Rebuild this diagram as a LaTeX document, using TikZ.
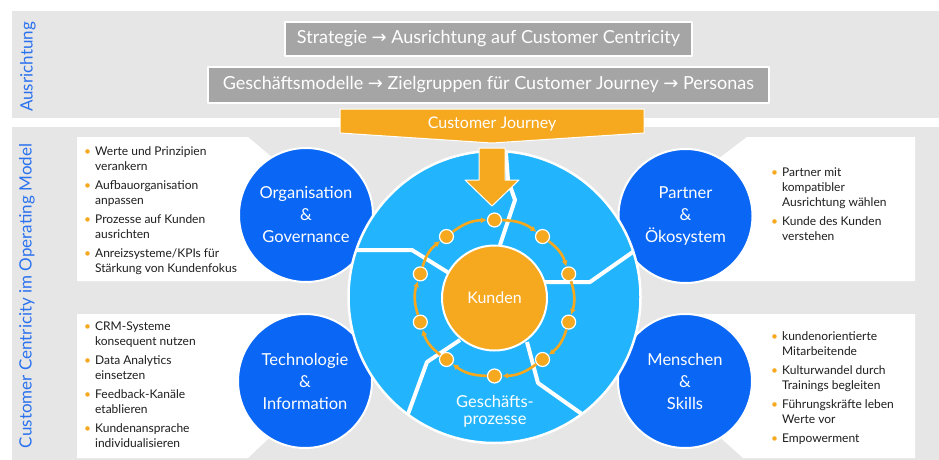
\documentclass[tikz,border=0pt]{standalone}
\usepackage{fontspec}
\setmainfont{Lato}
\newfontfamily\symfont{DejaVu Sans}
\usetikzlibrary{arrows.meta}

\definecolor{cjorange}{HTML}{F6A81F}
\definecolor{cjlight}{HTML}{22B5FD}
\definecolor{cjdark}{HTML}{0A66F4}
\definecolor{cjpanel}{HTML}{E6E6E6}
\definecolor{cjgrey}{HTML}{A5A5A5}
\definecolor{cjlabel}{HTML}{2A72EF}
\definecolor{cjtext}{HTML}{1E1E1E}

\newcommand{\bul}{\textcolor{cjorange}{\textbullet}}
\newcommand{\arr}{{\symfont\char"2192}}

\begin{document}
\begin{tikzpicture}[x=1pt,y=-1pt,line join=round,
    panel/.style={fill=cjpanel},
    greybox/.style={draw=white,line width=1.2pt,fill=cjgrey,text=white,
      font=\fontsize{18}{20}\selectfont,inner sep=0pt},
    pillar/.style={circle,draw=white,line width=2pt,fill=cjdark,text=white,
      minimum size=134pt,inner sep=0pt,align=center,
      font=\fontsize{16.5}{22}\selectfont},
    stop/.style={circle,draw=white,line width=1.2pt,fill=cjorange,
      minimum size=14pt,inner sep=0pt},
    flow/.style={cjorange,line width=2.6pt,-{Latex[length=6pt,width=6pt]}},
    bullets/.style={anchor=north west,inner sep=0pt,text=cjtext,
      font=\fontsize{12}{15}\selectfont},
    sidelabel/.style={rotate=90,text=cjlabel,font=\fontsize{17}{19}\selectfont}]
  \fill[white] (0,0) rectangle (939,460);
  \useasboundingbox (0,0) rectangle (939,460);

  % panels
  \fill[panel] (12,11) rectangle (939,118);
  \fill[panel] (12,127) rectangle (939,460);
  \node[sidelabel] (ausr) at (28,67) {Ausrichtung};
  \node[sidelabel] (model) at (27,296) {Customer Centricity im Operating Model};

  \node[greybox,minimum width=407pt,minimum height=34pt] (strategie) at (488.5,39)
    {Strategie \arr{} Ausrichtung auf Customer Centricity};
  \node[greybox,minimum width=561pt,minimum height=36pt] (modelle) at (488.5,85)
    {Geschäftsmodelle \arr{} Zielgruppen für Customer Journey \arr{} Personas};

  % callout boxes
  \fill[white] (77,137) -- (248,137) -- (306,186) -- (306,281) -- (77,281) -- cycle;
  \fill[white] (747,137) -- (915,137) -- (915,281) -- (685,281) -- (685,184) -- cycle;
  \fill[white] (77,314) -- (306,314) -- (306,403) -- (248,458) -- (77,458) -- cycle;
  \fill[white] (685,314) -- (915,314) -- (915,458) -- (743,458) -- (685,406) -- cycle;

  \node[bullets] (orgatext) at (84,145) {\begin{tabular}{@{}l@{\hspace{4pt}}l@{}}
    \bul & Werte und Prinzipien\\ & verankern\\[4pt]
    \bul & Aufbauorganisation\\ & anpassen\\[4pt]
    \bul & Prozesse auf Kunden\\ & ausrichten\\[4pt]
    \bul & Anreizsysteme/KPIs für\\ & Stärkung von Kundenfokus
  \end{tabular}};
  \node[bullets] (partnertext) at (771,166) {\begin{tabular}{@{}l@{\hspace{4pt}}l@{}}
    \bul & Partner mit\\ & kompatibler\\ & Ausrichtung wählen\\[4pt]
    \bul & Kunde des Kunden\\ & verstehen
  \end{tabular}};
  \node[bullets] (techniktext) at (84,320) {\begin{tabular}{@{}l@{\hspace{4pt}}l@{}}
    \bul & CRM-Systeme\\ & konsequent nutzen\\[4pt]
    \bul & Data Analytics\\ & einsetzen\\[4pt]
    \bul & Feedback-Kanäle\\ & etablieren\\[4pt]
    \bul & Kundenansprache\\ & individualisieren
  \end{tabular}};
  \node[bullets] (menschentext) at (771,330) {\begin{tabular}{@{}l@{\hspace{4pt}}l@{}}
    \bul & kundenorientierte\\ & Mitarbeitende\\[4pt]
    \bul & Kulturwandel durch\\ & Trainings begleiten\\[4pt]
    \bul & Führungskräfte leben\\ & Werte vor\\[4pt]
    \bul & Empowerment
  \end{tabular}};

  % pillars
  \node[pillar] (orga) at (306,215) {Organisation\\\&\\Governance};
  \node[pillar] (partner) at (685.5,216) {Partner\\\&\\Ökosystem};
  \node[pillar] (technik) at (305,381) {Technologie\\\&\\Information};
  \node[pillar] (menschen) at (685,381) {Menschen\\\&\\Skills};

  % big wheel
  \node[circle,fill=cjlight,minimum size=292pt,inner sep=0pt] (rad) at (494.5,297) {};
  \begin{scope}
    \clip (rad.center) circle (146pt);
    \draw[white,line width=4pt]
      (500,245) -- (515,200) -- (508,180) -- (505,140)
      (340,250) -- (412,250) -- (452,275)
      (540,282) -- (590,282) -- (650,240)
      (460,340) -- (427,362) -- (404,425)
      (527,342) -- (538,383) -- (596,424);
  \end{scope}
  \draw[white,line width=2.5pt] (rad.center) circle (146pt);

  \node[circle,draw=white,line width=2pt,fill=cjorange,minimum size=105pt,
    inner sep=0pt,text=white,font=\fontsize{16}{18}\selectfont] (kunden) at (494.5,298) {Kunden};

  \foreach \a [count=\i] in {-90,-52,-18,18,52,90,128,162,198,232}
    \node[stop] (s\i) at ([shift={(\a:78)}]kunden.center) {};
  \foreach \i [evaluate=\i as \j using {int(mod(\i,10)+1)}] in {1,...,10}
    \draw[flow] (s\i) to[bend left=18] (s\j);

  \node[text=white,align=center,font=\fontsize{16.5}{17}\selectfont] (gp) at (495,411)
    {Geschäfts-\\prozesse};

  % customer journey
  \draw[white,line width=1pt,fill=cjorange]
    (340,109) -- (644,109) -- (644,133) -- (492,143) -- (340,133) -- cycle;
  \node[text=white,font=\fontsize{16}{18}\selectfont] (journey) at (492,124) {Customer Journey};
  \draw[white,line width=1pt,fill=cjorange]
    (479,148) -- (505,148) -- (505,180) -- (519,180) -- (492,206)
    -- (465,180) -- (479,180) -- cycle;
\end{tikzpicture}
\end{document}
